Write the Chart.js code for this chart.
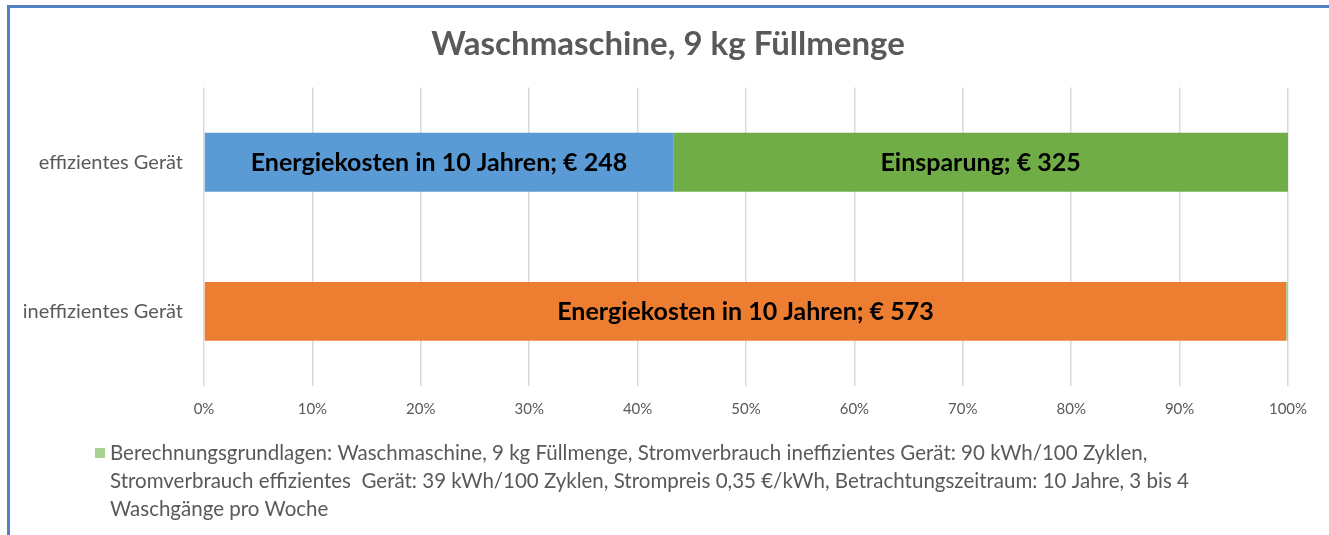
<!DOCTYPE html>
<html>
<head>
<meta charset="utf-8">
<script src="https://cdn.jsdelivr.net/npm/chart.js@4/dist/chart.umd.min.js"></script>
<style>
  html, body { margin: 0; padding: 0; background: #fff; }
  #frame { position: absolute; left: 7px; top: 5px; width: 1330px; height: 540px;
           border-left: 3px solid #5480C8; border-top: 3px solid #5480C8; }
  #wrap { position: absolute; left: 0; top: 0; width: 1329px; height: 535px; }
</style>
</head>
<body>
<div id="frame"></div>
<div id="wrap"><canvas id="chart"></canvas></div>
<script>
// --- chart data ---
const categories = ['effizientes Gerät', 'ineffizientes Gerät'];

const kostenEffizient = [248, null];
const einsparung = [325, null];
const kostenIneffizient = [null, 573];
const grundlagen = [null, 1];

const seriesNames = ['Energiekosten', 'Einsparung', 'Energiekosten ineffizient', 'Berechnungsgrundlagen'];
const barCaptions = ['Energiekosten in 10 Jahren', 'Einsparung', 'Energiekosten in 10 Jahren', null];

const legendLines = [
  'Berechnungsgrundlagen: Waschmaschine, 9 kg Füllmenge, Stromverbrauch ineffizientes Gerät: 90 kWh/100 Zyklen,',
  'Stromverbrauch effizientes  Gerät: 39 kWh/100 Zyklen, Strompreis 0,35 €/kWh, Betrachtungszeitraum: 10 Jahre, 3 bis 4',
  'Waschgänge pro Woche'
];
// ------------------

const allSeries = [kostenEffizient, einsparung, kostenIneffizient, grundlagen];
const colors = ['#5B9BD5', '#70AD47', '#ED7D31', '#A9D18E'];

// 100% stacked: each row as share of its total
const rowTotals = categories.map((c, i) => allSeries.reduce((s, arr) => s + (arr[i] || 0), 0));
const pct = arr => arr.map((v, i) => v == null ? null : v / rowTotals[i] * 100);

const FONT = 'Lato, "Open Sans", sans-serif';

const barLabelPlugin = {
  id: 'barLabels',
  afterDatasetsDraw(chart) {
    const ctx = chart.ctx;
    ctx.save();
    ctx.font = 'bold 25px ' + FONT;
    ctx.fillStyle = '#000';
    ctx.textAlign = 'center';
    ctx.textBaseline = 'middle';
    chart.data.datasets.forEach((ds, di) => {
      if (!barCaptions[di]) return;
      chart.getDatasetMeta(di).data.forEach((bar, i) => {
        const raw = allSeries[di][i];
        if (raw == null) return;
        const cx = (bar.x + bar.base) / 2;
        ctx.fillText(barCaptions[di] + '; € ' + raw, cx, bar.y + 1);
      });
    });
    ctx.restore();
  }
};

const legendPlugin = {
  id: 'wrapLegend',
  afterDraw(chart) {
    const ctx = chart.ctx;
    const top = chart.chartArea.bottom + 67;
    ctx.save();
    ctx.fillStyle = colors[3];
    ctx.fillRect(95, top - 5, 10, 10);
    ctx.font = '20.5px ' + FONT;
    ctx.fillStyle = '#595959';
    ctx.textBaseline = 'middle';
    legendLines.forEach((line, i) => {
      ctx.fillText(line, 110, top + i * 28);
    });
    ctx.restore();
  }
};

new Chart(document.getElementById('chart'), {
  type: 'bar',
  data: {
    labels: categories,
    datasets: allSeries.map((arr, i) => ({
      label: seriesNames[i],
      data: pct(arr),
      backgroundColor: colors[i],
      borderWidth: 0,
      barPercentage: 0.395,
      categoryPercentage: 1
    }))
  },
  options: {
    indexAxis: 'y',
    responsive: true,
    maintainAspectRatio: false,
    animation: false,
    layout: { padding: { left: 8, top: 6, right: 1, bottom: 103 } },
    plugins: {
      legend: { display: false },
      tooltip: { enabled: false },
      title: {
        display: true,
        text: 'Waschmaschine, 9 kg Füllmenge',
        color: '#595959',
        font: { family: FONT, size: 33, weight: 'bold' },
        padding: { top: 19, bottom: 23 }
      }
    },
    scales: {
      x: {
        stacked: true,
        min: 0,
        max: 100,
        ticks: {
          stepSize: 10,
          color: '#595959',
          font: { family: FONT, size: 15 },
          padding: 14,
          callback: v => v + '%'
        },
        grid: { color: '#D9D9D9', lineWidth: 1.5, drawTicks: false },
        border: { display: false }
      },
      y: {
        stacked: true,
        ticks: {
          color: '#595959',
          font: { family: FONT, size: 20 },
          padding: 21
        },
        grid: { display: false, drawTicks: false },
        border: { display: false },
        afterFit: scale => { scale.width = 196; }
      },
      // empty spacer on the right so the plot ends at 100% like the original
      spacer: {
        type: 'linear',
        position: 'right',
        display: true,
        ticks: { display: false },
        grid: { display: false, drawTicks: false },
        border: { display: false },
        afterFit: scale => { scale.width = 40; }
      }
    }
  },
  plugins: [barLabelPlugin, legendPlugin]
});
</script>
</body>
</html>
